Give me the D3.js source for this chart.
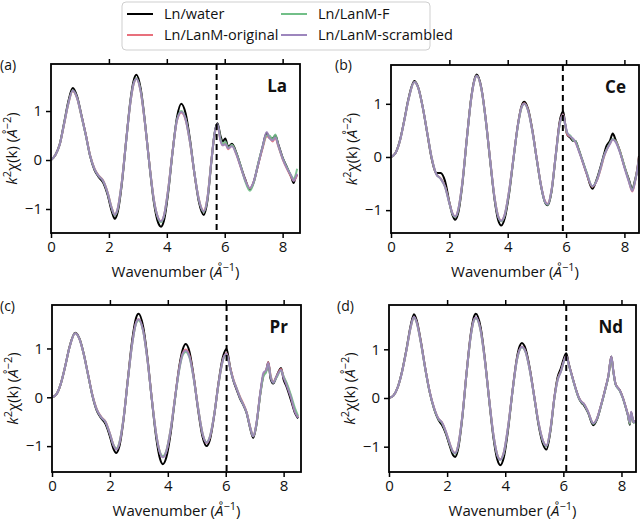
<!DOCTYPE html>
<html><head><meta charset="utf-8">
<script src="https://cdn.jsdelivr.net/npm/d3@7"></script>
<style>body{margin:0;background:#fff}svg{display:block}text{font-family:"Open Sans",sans-serif;fill:#111}</style>
</head><body><svg id="c" width="640" height="520"></svg>
<script>
const seriesNames = ["Ln/water","Ln/LanM-original","Ln/LanM-F","Ln/LanM-scrambled"];
const seriesColors = ["#000000","#e8707c","#72bf88","#9d86bd"];
const panelLabels = ["(a)","(b)","(c)","(d)"];
const elements = ["La","Ce","Pr","Nd"];
const dashedK = [5.72,5.89,6.03,6.1];
const xTicks = [0,2,4,6,8];
const yTicks = [-1,0,1];
const xMax = [8.6,8.5,8.6,8.5];
const yDomains = [[-1.49,1.96],[-1.43,1.73],[-1.53,1.89],[-1.52,1.91]];

// Panel (a) La
const A_k = [0,0.15,0.3,0.45,0.6,0.75,0.9,1.05,1.2,1.35,1.5,1.65,1.8,1.95,2.1,2.2,2.3,2.45,2.6,2.75,2.85,2.95,3.1,3.25,3.4,3.55,3.7,3.8,3.9,4.05,4.2,4.35,4.5,4.65,4.8,4.95,5.1,5.28,5.4,5.55,5.65,5.75,5.85,5.93,6.02,6.12,6.25,6.4,6.55,6.7,6.87,7.0,7.15,7.3,7.45,7.55,7.65,7.75,7.85,8.0,8.15,8.3,8.38,8.45,8.5];
const A_water = [0,0.1,0.32,0.75,1.2,1.47,1.3,0.92,0.52,0.08,-0.2,-0.35,-0.46,-0.7,-1.05,-1.2,-1.07,-0.47,0.42,1.25,1.61,1.74,1.45,0.75,-0.1,-0.85,-1.28,-1.36,-1.24,-0.65,0.17,0.87,1.15,0.95,0.42,-0.26,-0.83,-1.12,-0.84,0.03,0.55,0.75,0.5,0.38,0.44,0.27,0.33,0.15,-0.12,-0.38,-0.6,-0.45,-0.1,0.25,0.55,0.45,0.44,0.5,0.32,0.05,-0.15,-0.35,-0.47,-0.35,-0.3];
const A_orig = [0,0.1,0.31,0.72,1.15,1.41,1.26,0.9,0.52,0.1,-0.17,-0.32,-0.42,-0.65,-0.98,-1.12,-1.0,-0.42,0.42,1.2,1.54,1.66,1.39,0.72,-0.08,-0.8,-1.18,-1.25,-1.14,-0.58,0.18,0.8,0.97,0.82,0.36,-0.26,-0.78,-1.04,-0.78,0.05,0.52,0.7,0.42,0.3,0.35,0.22,0.3,0.12,-0.14,-0.4,-0.58,-0.45,-0.1,0.22,0.48,0.46,0.38,0.45,0.28,0.02,-0.18,-0.35,-0.42,-0.38,-0.3];
const A_F = [0,0.1,0.31,0.73,1.16,1.42,1.27,0.9,0.51,0.09,-0.18,-0.33,-0.43,-0.66,-0.99,-1.13,-1.01,-0.43,0.41,1.21,1.55,1.67,1.4,0.73,-0.09,-0.81,-1.19,-1.27,-1.15,-0.6,0.17,0.82,1.0,0.84,0.37,-0.25,-0.79,-1.06,-0.8,0.04,0.53,0.72,0.45,0.32,0.38,0.25,0.31,0.14,-0.12,-0.42,-0.63,-0.47,-0.08,0.25,0.5,0.5,0.42,0.52,0.3,0.04,-0.15,-0.32,-0.38,-0.3,-0.18];
const A_scr = [0,0.1,0.31,0.73,1.16,1.42,1.27,0.91,0.52,0.09,-0.18,-0.33,-0.43,-0.66,-0.99,-1.12,-1.0,-0.43,0.41,1.21,1.55,1.66,1.39,0.73,-0.09,-0.8,-1.18,-1.25,-1.14,-0.59,0.17,0.81,0.98,0.83,0.37,-0.25,-0.79,-1.05,-0.79,0.04,0.54,0.73,0.4,0.3,0.32,0.24,0.28,0.12,-0.14,-0.4,-0.57,-0.44,-0.1,0.25,0.57,0.44,0.4,0.46,0.3,0.03,-0.17,-0.33,-0.43,-0.36,-0.28];

// Panel (b) Ce
const B_k = [0,0.15,0.3,0.45,0.6,0.8,0.95,1.1,1.25,1.4,1.55,1.7,1.85,2.0,2.1,2.2,2.3,2.45,2.6,2.75,2.85,2.94,3.1,3.25,3.4,3.55,3.68,3.78,3.9,4.05,4.2,4.35,4.47,4.57,4.7,4.85,5.0,5.15,5.27,5.37,5.5,5.65,5.78,5.9,5.97,6.04,6.15,6.25,6.32,6.42,6.55,6.7,6.9,7.05,7.2,7.3,7.38,7.5,7.6,7.7,7.85,8.0,8.15,8.27,8.37,8.45,8.5];
const B_water = [0,0.07,0.3,0.68,1.1,1.43,1.28,0.9,0.42,-0.05,-0.3,-0.3,-0.45,-0.85,-1.08,-1.18,-1.06,-0.49,0.35,1.12,1.44,1.55,1.29,0.69,-0.08,-0.8,-1.2,-1.29,-1.15,-0.68,-0.02,0.61,0.95,1.04,0.9,0.49,-0.06,-0.57,-0.84,-0.91,-0.66,0.05,0.66,0.86,0.62,0.42,0.36,0.3,0.3,0.16,-0.05,-0.3,-0.6,-0.42,-0.15,0.05,0.2,0.3,0.44,0.32,0.1,-0.18,-0.42,-0.6,-0.42,-0.2,0.02];
const B_orig = [0,0.07,0.29,0.67,1.08,1.41,1.27,0.9,0.43,-0.03,-0.32,-0.4,-0.55,-0.86,-1.05,-1.12,-1.0,-0.46,0.35,1.1,1.42,1.53,1.27,0.69,-0.06,-0.76,-1.12,-1.2,-1.08,-0.63,-0.01,0.6,0.93,1.01,0.88,0.48,-0.05,-0.55,-0.82,-0.88,-0.63,0.05,0.62,0.8,0.6,0.42,0.38,0.32,0.28,0.15,-0.06,-0.3,-0.56,-0.45,-0.2,0.0,0.12,0.25,0.33,0.3,0.1,-0.18,-0.45,-0.65,-0.45,-0.2,0.0];
const B_F = [0,0.07,0.29,0.67,1.08,1.41,1.27,0.9,0.43,-0.03,-0.32,-0.41,-0.56,-0.87,-1.06,-1.13,-1.01,-0.47,0.34,1.1,1.42,1.53,1.27,0.68,-0.07,-0.77,-1.13,-1.21,-1.09,-0.64,-0.02,0.59,0.92,1.0,0.87,0.47,-0.06,-0.56,-0.84,-0.9,-0.64,0.04,0.6,0.78,0.6,0.45,0.4,0.31,0.3,0.16,-0.05,-0.28,-0.55,-0.44,-0.18,0.02,0.13,0.26,0.34,0.3,0.1,-0.17,-0.44,-0.62,-0.44,-0.22,-0.02];
const B_scr = [0,0.07,0.29,0.67,1.08,1.41,1.27,0.9,0.43,-0.03,-0.32,-0.41,-0.56,-0.87,-1.05,-1.12,-1.0,-0.46,0.35,1.1,1.42,1.53,1.28,0.69,-0.06,-0.77,-1.13,-1.2,-1.08,-0.63,-0.01,0.6,0.93,1.0,0.87,0.47,-0.05,-0.56,-0.83,-0.89,-0.63,0.05,0.62,0.79,0.62,0.46,0.38,0.34,0.28,0.14,-0.06,-0.3,-0.55,-0.45,-0.18,0.02,0.12,0.24,0.33,0.28,0.08,-0.2,-0.46,-0.64,-0.45,-0.22,-0.03];

// Panel (c) Pr
const C_k = [0,0.15,0.3,0.45,0.6,0.8,0.95,1.1,1.25,1.4,1.55,1.7,1.85,2.0,2.12,2.22,2.32,2.47,2.62,2.77,2.9,2.99,3.15,3.3,3.45,3.6,3.73,3.83,3.95,4.1,4.25,4.4,4.52,4.62,4.75,4.9,5.05,5.2,5.34,5.45,5.6,5.75,5.9,6.03,6.15,6.26,6.38,6.49,6.6,6.72,6.85,6.95,7.05,7.2,7.3,7.4,7.47,7.55,7.64,7.75,7.91,8.0,8.1,8.25,8.39,8.5];
const C_water = [0,0.06,0.27,0.62,1.02,1.32,1.2,0.88,0.45,0.02,-0.28,-0.43,-0.55,-0.8,-1.05,-1.14,-1.02,-0.46,0.37,1.17,1.62,1.71,1.44,0.79,-0.06,-0.83,-1.26,-1.37,-1.23,-0.73,-0.02,0.65,0.99,1.09,0.93,0.4,-0.27,-0.81,-1.0,-0.88,-0.38,0.29,0.82,0.99,0.62,0.35,0.15,-0.02,-0.15,-0.32,-0.65,-0.83,-0.6,0.1,0.45,0.55,0.72,0.38,0.28,0.42,0.6,0.36,0.22,-0.05,-0.32,-0.43];
const C_orig = [0,0.06,0.27,0.62,1.01,1.31,1.19,0.87,0.45,0.04,-0.25,-0.4,-0.5,-0.74,-0.97,-1.06,-0.95,-0.43,0.36,1.1,1.52,1.6,1.36,0.75,-0.04,-0.75,-1.13,-1.22,-1.1,-0.65,0.0,0.61,0.91,0.98,0.85,0.38,-0.23,-0.74,-0.93,-0.82,-0.36,0.27,0.76,0.9,0.62,0.38,0.18,0.02,-0.12,-0.3,-0.62,-0.8,-0.58,0.1,0.45,0.55,0.72,0.45,0.32,0.42,0.58,0.42,0.28,0.02,-0.28,-0.4];
const C_F = [0,0.06,0.27,0.62,1.01,1.31,1.19,0.87,0.44,0.03,-0.26,-0.41,-0.51,-0.75,-0.97,-1.05,-0.94,-0.43,0.35,1.09,1.5,1.58,1.35,0.74,-0.05,-0.76,-1.13,-1.21,-1.09,-0.65,-0.02,0.58,0.87,0.93,0.81,0.36,-0.23,-0.74,-0.92,-0.81,-0.36,0.26,0.75,0.88,0.6,0.36,0.18,0.0,-0.14,-0.31,-0.63,-0.8,-0.59,0.08,0.42,0.52,0.68,0.43,0.3,0.4,0.55,0.43,0.3,0.05,-0.22,-0.38];
const C_scr = [0,0.06,0.27,0.62,1.01,1.31,1.19,0.87,0.45,0.03,-0.26,-0.41,-0.51,-0.75,-0.98,-1.07,-0.96,-0.44,0.35,1.1,1.52,1.6,1.36,0.75,-0.05,-0.76,-1.14,-1.23,-1.11,-0.66,-0.01,0.6,0.9,0.96,0.83,0.37,-0.24,-0.75,-0.93,-0.82,-0.37,0.27,0.76,0.89,0.6,0.36,0.17,0.0,-0.14,-0.31,-0.63,-0.8,-0.57,0.12,0.5,0.56,0.7,0.42,0.3,0.42,0.56,0.4,0.25,0.0,-0.3,-0.42];

// Panel (d) Nd
const D_k = [0,0.15,0.3,0.45,0.6,0.75,0.86,0.95,1.1,1.25,1.4,1.55,1.7,1.82,1.95,2.1,2.2,2.28,2.37,2.52,2.67,2.82,2.92,2.99,3.15,3.3,3.45,3.6,3.73,3.83,3.95,4.1,4.25,4.4,4.5,4.57,4.7,4.85,5.0,5.15,5.3,5.42,5.55,5.7,5.8,5.92,6.02,6.1,6.18,6.3,6.42,6.54,6.63,6.71,6.85,7.03,7.15,7.3,7.45,7.55,7.65,7.72,7.8,7.94,8.05,8.14,8.22,8.29,8.33,8.38,8.42,8.48];
const D_water = [0,0.05,0.22,0.55,1.0,1.5,1.72,1.6,1.15,0.6,0.12,-0.22,-0.45,-0.55,-0.72,-1.0,-1.17,-1.21,-1.07,-0.42,0.52,1.34,1.66,1.73,1.46,0.8,-0.06,-0.84,-1.27,-1.38,-1.22,-0.64,0.14,0.82,1.07,1.13,1.01,0.59,0.02,-0.56,-0.95,-1.06,-0.7,0.05,0.42,0.62,0.82,0.92,0.72,0.45,0.2,-0.01,-0.1,-0.15,-0.3,-0.56,-0.45,-0.15,0.2,0.45,0.85,0.55,0.28,0.16,0.0,-0.18,-0.35,-0.55,-0.3,-0.42,-0.5,-0.47];
const D_orig = [0,0.05,0.22,0.54,0.98,1.46,1.66,1.56,1.13,0.6,0.13,-0.2,-0.42,-0.5,-0.68,-0.95,-1.1,-1.13,-1.0,-0.39,0.52,1.3,1.6,1.65,1.4,0.77,-0.04,-0.78,-1.17,-1.26,-1.12,-0.58,0.14,0.78,1.0,1.05,0.95,0.56,0.02,-0.52,-0.88,-0.98,-0.66,0.04,0.38,0.56,0.76,0.86,0.7,0.45,0.2,0.0,-0.08,-0.12,-0.28,-0.52,-0.43,-0.14,0.2,0.45,0.84,0.55,0.28,0.16,0.0,-0.17,-0.34,-0.52,-0.3,-0.42,-0.5,-0.47];
const D_F = [0,0.05,0.22,0.54,0.98,1.46,1.66,1.55,1.12,0.59,0.12,-0.21,-0.43,-0.51,-0.69,-0.96,-1.11,-1.14,-1.01,-0.4,0.51,1.29,1.59,1.64,1.39,0.76,-0.05,-0.79,-1.18,-1.27,-1.13,-0.59,0.13,0.77,0.99,1.04,0.94,0.55,0.01,-0.53,-0.89,-0.99,-0.67,0.03,0.37,0.55,0.75,0.85,0.69,0.44,0.19,-0.01,-0.09,-0.13,-0.29,-0.53,-0.44,-0.15,0.19,0.44,0.83,0.54,0.27,0.15,-0.01,-0.18,-0.35,-0.53,-0.31,-0.43,-0.51,-0.48];
const D_scr = [0,0.05,0.22,0.54,0.98,1.47,1.67,1.56,1.13,0.6,0.13,-0.2,-0.42,-0.5,-0.68,-0.95,-1.1,-1.13,-1.0,-0.39,0.52,1.3,1.6,1.66,1.4,0.77,-0.04,-0.78,-1.18,-1.27,-1.12,-0.58,0.14,0.78,1.0,1.05,0.95,0.56,0.02,-0.52,-0.88,-0.98,-0.66,0.04,0.36,0.55,0.76,0.86,0.7,0.45,0.2,0.0,-0.08,-0.12,-0.28,-0.52,-0.43,-0.14,0.2,0.46,0.85,0.56,0.28,0.16,0.0,-0.17,-0.34,-0.5,-0.28,-0.4,-0.5,-0.46];

const panelK = [A_k,B_k,C_k,D_k];
const panelSeries = [[A_water,A_orig,A_F,A_scr],[B_water,B_orig,B_F,B_scr],[C_water,C_orig,C_F,C_scr],[D_water,D_orig,D_F,D_scr]];

// layout
const frames = [{l:51,r:300,t:64,b:233},{l:391,r:639,t:65,b:233},{l:52,r:301,t:305,b:472},{l:389,r:636,t:305,b:472}];
const svg = d3.select("#c");

frames.forEach((f,i)=>{
  const x = d3.scaleLinear().domain([0,xMax[i]]).range([f.l,f.r]);
  const y = d3.scaleLinear().domain(yDomains[i]).range([f.b,f.t]);
  const g = svg.append("g");
  const clipId = "clip"+i;
  svg.append("clipPath").attr("id",clipId).append("rect").attr("x",f.l).attr("y",f.t).attr("width",f.r-f.l).attr("height",f.b-f.t);
  const plot = g.append("g").attr("clip-path",`url(#${clipId})`);
  const line = d3.line().x(d=>x(d[0])).y(d=>y(d[1])).curve(d3.curveMonotoneX);
  panelSeries[i].forEach((vals,s)=>{
    const pts = panelK[i].map((k,j)=>[k,vals[j]]);
    plot.append("path").attr("d",line(pts)).attr("fill","none")
      .attr("stroke",seriesColors[s]).attr("stroke-width",2)
      .attr("stroke-opacity",s===0?1:0.9).attr("stroke-linejoin","round");
  });
  plot.append("line").attr("x1",x(dashedK[i])).attr("x2",x(dashedK[i])).attr("y1",f.t).attr("y2",f.b)
    .attr("stroke","#000").attr("stroke-width",2).attr("stroke-dasharray","6,4");
  const ax = g.append("g").attr("transform",`translate(0,${f.b})`).call(d3.axisBottom(x).tickValues(xTicks).tickSize(5).tickPadding(3).tickFormat(d3.format("d")));
  const axt = g.append("g").attr("transform",`translate(0,${f.t})`).call(d3.axisTop(x).tickValues(xTicks.filter(d=>d>0)).tickSize(5).tickFormat(""));
  const ay = g.append("g").attr("transform",`translate(${f.l},0)`).call(d3.axisLeft(y).tickValues(yTicks).tickSize(5).tickPadding(4).tickFormat(d=>d<0?"\u2212"+Math.abs(d):d));
  [ax,axt,ay].forEach(a=>{
    a.select(".domain").remove();
    a.selectAll(".tick line").attr("stroke","#000").attr("stroke-width",1.5);
    a.selectAll(".tick text").attr("font-size",15).attr("fill","#111").attr("font-family","'Open Sans',sans-serif");
  });
  g.append("rect").attr("x",f.l).attr("y",f.t).attr("width",f.r-f.l).attr("height",f.b-f.t)
    .attr("fill","none").attr("stroke","#000").attr("stroke-width",1.8);
  g.append("text").attr("x",f.r-13).attr("y",f.t+28).attr("text-anchor","end")
    .attr("font-size",17).attr("font-weight","bold").text(elements[i]);
  const xl = g.append("text").attr("x",(f.l+f.r)/2).attr("y",f.b+44).attr("text-anchor","middle").attr("font-size",15);
  xl.append("tspan").text("Wavenumber (");
  xl.append("tspan").attr("font-style","italic").text("\u00C5");
  xl.append("tspan").attr("dy",-6).attr("font-size",11).text("\u22121");
  xl.append("tspan").attr("dy",6).text(")");
  const cy = (f.t+f.b)/2;
  const yl = g.append("text").attr("transform",`translate(${f.l-34},${cy}) rotate(-90)`).attr("text-anchor","middle").attr("font-size",15);
  yl.append("tspan").attr("font-style","italic").text("k");
  yl.append("tspan").attr("dy",-6).attr("font-size",11).text("2");
  yl.append("tspan").attr("dy",6).text("\u03C7(k) (");
  yl.append("tspan").attr("font-style","italic").text("\u00C5");
  yl.append("tspan").attr("dy",-6).attr("font-size",11).text("\u22122");
  yl.append("tspan").attr("dy",6).text(")");
});

const letterPos = [[0,70],[335,70],[0,311],[337,311]];
panelLabels.forEach((t,i)=>{
  svg.append("text").attr("x",letterPos[i][0]).attr("y",letterPos[i][1]).attr("font-size",14).text(t);
});

const lg = svg.append("g");
lg.append("rect").attr("x",122).attr("y",2).attr("width",308).attr("height",48).attr("rx",4)
  .attr("fill","#fff").attr("fill-opacity",0.85).attr("stroke","#cfcfcf").attr("stroke-width",1);
seriesNames.forEach((n,s)=>{
  const col = Math.floor(s/2), row = s%2;
  const lx = col===0?127:281, ly = row===0?14:35;
  lg.append("line").attr("x1",lx).attr("x2",lx+26).attr("y1",ly).attr("y2",ly)
    .attr("stroke",seriesColors[s]).attr("stroke-width",2);
  lg.append("text").attr("x",lx+37).attr("y",ly+5).attr("font-size",14.5).text(n);
});
</script></body></html>
